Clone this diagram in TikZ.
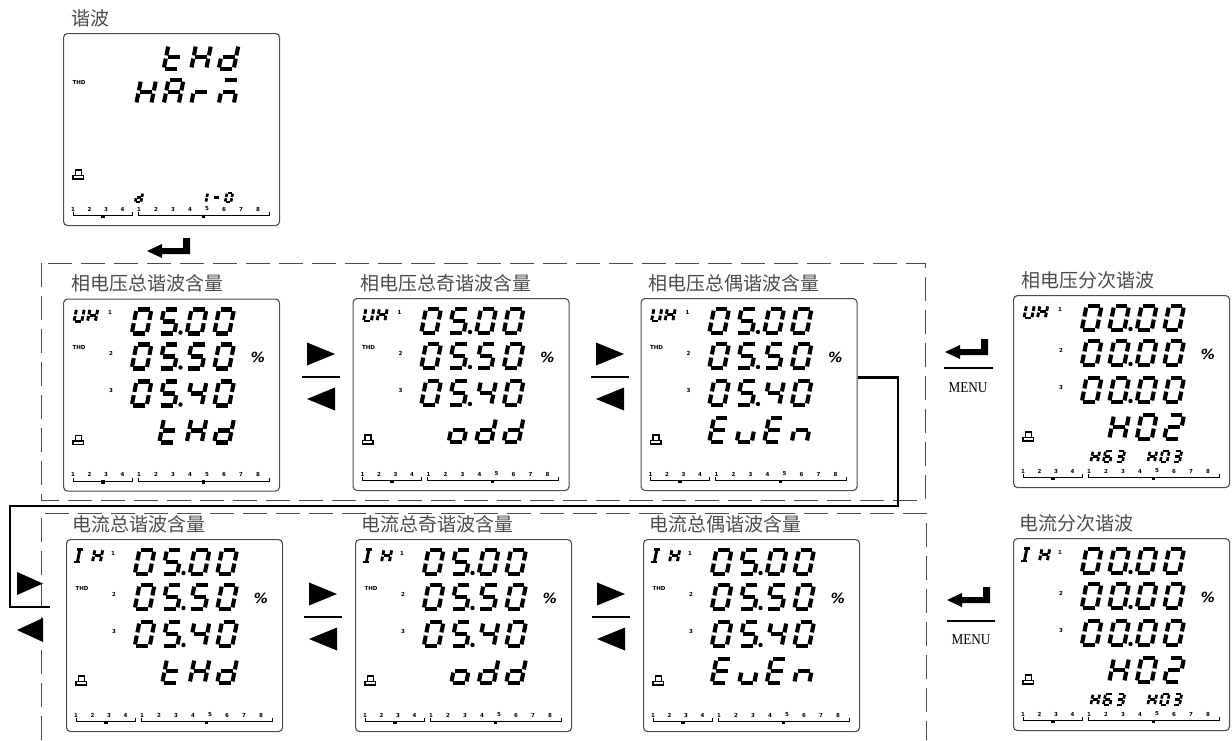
\documentclass[tikz,border=0pt]{standalone}
\usepackage{fontspec}
\setmainfont{Liberation Serif}
\setsansfont{DejaVu Sans}
\newfontfamily\cjk{Noto Sans CJK SC}
\usetikzlibrary{positioning}

% segments of one lcd character, box 15 x 24
\def\lcdsega{(1.6,0) -- (13.4,0)}
\def\lcdsegb{(15,1.6) -- (15,10.4)}
\def\lcdsegc{(15,13.6) -- (15,22.4)}
\def\lcdsegd{(1.6,24) -- (13.4,24)}
\def\lcdsege{(0,13.6) -- (0,22.4)}
\def\lcdsegf{(0,1.6) -- (0,10.4)}
\def\lcdsegg{(1.6,12) -- (13.4,12)}
\def\lcdsegv{(7.5,1.6) -- (7.5,22.4)}

\def\segloop#1{\ifx\relax#1\else
  \expandafter\let\expandafter\segpath\csname lcdseg#1\endcsname
  \draw[lcdline] \segpath;
  \expandafter\segloop\fi}

\newcommand\lcdch[3][]{%
  \begin{scope}[shift={(#2)},xslant=.2,line width=4.1pt,#1]
    \expandafter\segloop#3\relax
  \end{scope}}

\newcommand\digrow[5][]{%
  \foreach \cc [count=\i from 0] in {#5}
    {\lcdch[#1]{{#2+\i*#4},#3}{\cc}}}

\newcommand\lcd[4]{%
  \node[lcdbox] (#1) at (#2,#3) {};
  \begin{scope}[shift={(#2,#3)}]
    \def\pname{#1}
    % pc symbol
    \draw[line width=1.4pt,fill=white] (12.5,137) rectangle (18.5,142.5);
    \draw[line width=1.4pt,fill=white] (10,142.5) rectangle (20.5,146);
    % bar graph
    \foreach \n in {1,...,4}
      \node[tinynum] (#1-l\n) at ({10+(\n-1)*16.5},176) {\n};
    \foreach \n in {1,...,8}
      \node[tinynum] (#1-r\n) at ({76+(\n-1)*17},176) {\n};
    \draw[line width=1pt] (10,179) -- (10,182.5) -- (69,182.5) -- (69,179);
    \draw[line width=1pt] (75,179) -- (75,182.5) -- (206,182.5) -- (206,179);
    \fill (37.5,181.5) rectangle (41.5,185);
    \fill (138.5,181.5) rectangle (141.5,185);
    #4
  \end{scope}}

\newcommand\meter{%
  \node[tinynum] (\pname-1) at (47,14) {1};
  \node[tinynum] (\pname-2) at (48,55) {2};
  \node[tinynum] (\pname-3) at (48,92) {3};
  \node[pct] (\pname-pct) at (195,59) {\%};}
\newcommand\thdmark{\node[thd] (\pname-thd) at (16,49) {THD};}
\newcommand\uhlabel{\digrow[lcdlabel]{13.5}{10.5}{13.5}{bcdef,bcefg}}
\newcommand\ihlabel{\lcdch[lcdlabel]{10,10.5}{adv}\lcdch[lcdlabel]{29,10.5}{bcefg}}

\newcommand\totals{%
  \digrow{73.5}{11}{27.5}{abcdef,acdfg,abcdef,abcdef}
  \digrow{73.5}{46}{27.5}{abcdef,acdfg,acdfg,abcdef}
  \digrow{73.5}{83}{27.5}{abcdef,acdfg,bcfg,abcdef}
  \foreach \y in {34,69,106} \fill (117.5,\y) circle (2.2);}
\newcommand\partials{%
  \foreach \y in {11,46,83} {\digrow{73.5}{\y}{27.5}{abcdef,abcdef,abcdef,abcdef}}
  \foreach \y in {34,69,106} \fill (117.5,\y) circle (2.2);
  \digrow{101}{120}{27.5}{bcefg,abcdef,abdeg}
  \digrow[lcdsmall]{80}{156}{12.5}{bcefg,acdefg,abcdg}
  \digrow[lcdsmall]{137}{156}{12.5}{bcefg,abcdef,abcdg}}

\newcommand\swap[2]{%
  \fill (#1-14,#2-34.5) -- (#1+14,#2-23) -- (#1-14,#2-11.5) -- cycle;
  \draw[line width=2pt] (#1-19,#2) -- (#1+19,#2);
  \fill (#1+14,#2+10.5) -- (#1-14,#2+22) -- (#1+14,#2+33.5) -- cycle;}
\newcommand\enterkey[1]{%
  \fill[shift={(#1)}] (0,0) -- (15,-7) -- (15,-3) -- (36,-3) -- (36,-13)
    -- (43,-13) -- (43,3) -- (15,3) -- (15,7) -- cycle;}

\begin{document}
\begin{tikzpicture}
  [x=1pt,y=-1pt,
   lcdbox/.style={draw=black!70,line width=1.1pt,rounded corners=4pt,
     minimum width=216pt,minimum height=192pt,inner sep=0pt,anchor=north west},
   lcdline/.style={line cap=butt},
   lcdsmall/.style={scale=.45,line width=2.6pt},
   lcdlabel/.style={scale=.52,line width=2.9pt},
   paneltitle/.style={font=\cjk\fontsize{19}{21}\selectfont,text=black!70,inner sep=1pt},
   tinynum/.style={font=\sffamily\bfseries\fontsize{5.5}{6}\selectfont,inner sep=0pt},
   thd/.style={font=\sffamily\bfseries\fontsize{5.5}{6}\selectfont,inner sep=0pt},
   pct/.style={font=\sffamily\bfseries\itshape\fontsize{14}{14}\selectfont,inner sep=0pt},
   menu/.style={font=\fontsize{15}{15}\selectfont,xscale=.88,inner sep=0pt},
   groupbox/.style={draw=black!70,line width=.9pt,dash pattern=on 24pt off 9pt},
   flowline/.style={line width=2.5pt,line join=miter}]

  \useasboundingbox (0,0) rectangle (1232,740);

  % dashed groups
  \draw[groupbox] (41,263) rectangle (925,500);
  \draw[groupbox] (41,740) |- (926,513) -- (926,740);

  % displays
  \lcd{harm}{63}{33}{\thdmark
    \digrow{105.5}{12}{27.5}{defg,bcefg,bcdeg}
    \digrow{78}{47}{27.5}{bcefg,abcefg,eg,aceg}
    \digrow[lcdsmall,scale=.85]{74}{160}{12.5}{bcdeg}
    \digrow[lcdsmall,scale=.85]{139}{160}{12.5}{bc,g,abcdef}}
  \lcd{ua}{63}{298.5}{\uhlabel\meter\thdmark\totals
    \digrow{101}{120}{27.5}{defg,bcefg,bcdeg}}
  \lcd{ub}{352.5}{298}{\uhlabel\meter\thdmark\totals
    \digrow{101}{120}{27.5}{cdeg,bcdeg,bcdeg}}
  \lcd{uc}{640.5}{298}{\uhlabel\meter\thdmark\totals
    \digrow{73.5}{120}{27.5}{adefg,cde,adefg,ceg}}
  \lcd{ia}{66}{539}{\ihlabel\meter\thdmark\totals
    \digrow{101}{120}{27.5}{defg,bcefg,bcdeg}}
  \lcd{ib}{355}{539}{\ihlabel\meter\thdmark\totals
    \digrow{101}{120}{27.5}{cdeg,bcdeg,bcdeg}}
  \lcd{ic}{643}{539}{\ihlabel\meter\thdmark\totals
    \digrow{73.5}{120}{27.5}{adefg,cde,adefg,ceg}}
  \lcd{uk}{1013}{295}{\uhlabel\meter\partials}
  \lcd{ik}{1013}{538}{\ihlabel\meter\partials}

  % titles
  \node[paneltitle,above right=5pt and 7pt of harm.north west] (tharm) {谐波};
  \node[paneltitle,above right=5pt and 7pt of ua.north west] (tua) {相电压总谐波含量};
  \node[paneltitle,above right=5pt and 7pt of ub.north west] (tub) {相电压总奇谐波含量};
  \node[paneltitle,above right=5pt and 7pt of uc.north west] (tuc) {相电压总偶谐波含量};
  \node[paneltitle,above right=5pt and 5pt of ia.north west] (tia) {电流总谐波含量};
  \node[paneltitle,above right=5pt and 5pt of ib.north west] (tib) {电流总奇谐波含量};
  \node[paneltitle,above right=5pt and 5pt of ic.north west] (tic) {电流总偶谐波含量};
  \node[paneltitle,above right=5pt and 7pt of uk.north west] (tuk) {相电压分次谐波};
  \node[paneltitle,above right=5pt and 5pt of ik.north west] (tik) {电流分次谐波};

  % keys
  \enterkey{147,251}
  \swap{321}{377}
  \swap{610}{377}
  \swap{323}{617}
  \swap{611}{617}
  \enterkey{945,352}
  \draw[line width=2pt] (944,368) -- (993,368);
  \node[menu] (menu1) at (968,388) {MENU};
  \enterkey{947,600}
  \draw[line width=2pt] (947,621) -- (995,621);
  \node[menu] (menu2) at (971,640) {MENU};

  % from the voltage row to the current row
  \coordinate (back) at (50,607);
  \draw[flowline] ([yshift=17pt]uc.east) -| (898,506) -| (10,607) -- (back);
  \fill (17,572) -- (43,583.5) -- (17,595) -- cycle;
  \fill (43,618) -- (17,630) -- (43,642) -- cycle;
\end{tikzpicture}
\end{document}
